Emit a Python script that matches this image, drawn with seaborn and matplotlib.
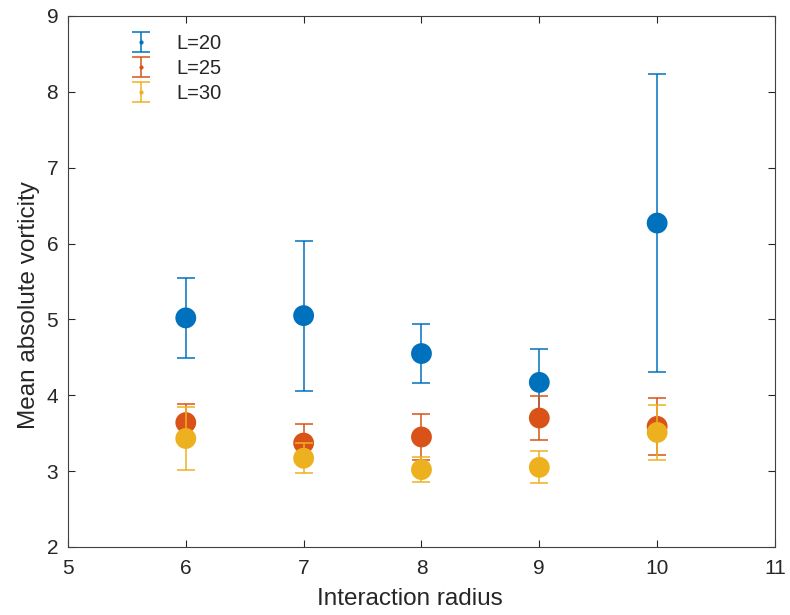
import numpy as np
import pandas as pd
import matplotlib
matplotlib.use("Agg")
import matplotlib.pyplot as plt
import seaborn as sns

# Interaction radius values
radius = [6, 7, 8, 9, 10]

# Mean absolute vorticity and error half-widths for each system size
L20_mean = [5.02, 5.05, 4.55, 4.17, 6.27]
L20_err = [0.53, 0.99, 0.39, 0.44, 1.96]
L25_mean = [3.64, 3.37, 3.45, 3.70, 3.59]
L25_err = [0.24, 0.25, 0.30, 0.29, 0.38]
L30_mean = [3.43, 3.17, 3.02, 3.05, 3.51]
L30_err = [0.42, 0.20, 0.16, 0.21, 0.36]

series_labels = ["L=20", "L=25", "L=30"]
colors = ["#0072BD", "#D95319", "#EDB120"]

df = pd.DataFrame({
    "radius": radius * 3,
    "mean": L20_mean + L25_mean + L30_mean,
    "err": L20_err + L25_err + L30_err,
    "size": np.repeat(series_labels, len(radius)),
})

sns.set_theme(style="ticks")
plt.rcParams["font.family"] = ["Liberation Sans", "DejaVu Sans"]

fig = plt.figure(figsize=(7.9, 6.15), dpi=100)
ax = fig.add_axes([0.086, 0.1106, 0.895, 0.8634])

for i, (lab, col) in enumerate(zip(series_labels, colors)):
    sub = df[df["size"] == lab]
    ax.errorbar(sub["radius"], sub["mean"], yerr=sub["err"], fmt=".",
                color=col, ms=4, elinewidth=1.1, capsize=6.5, capthick=1.1,
                label=lab, zorder=2 + 2 * i)
    sns.scatterplot(data=sub, x="radius", y="mean", ax=ax, color=col,
                    s=225, edgecolor="none", legend=False, zorder=3 + 2 * i)

ax.set_xlim(5, 11)
ax.set_ylim(2, 9)
ax.set_xticks(range(5, 12))
ax.set_yticks(range(2, 10))
ax.set_xlabel("Interaction radius", fontsize=17.5, color="#262626")
ax.set_ylabel("Mean absolute vorticity", fontsize=17.5, color="#262626")
ax.xaxis.set_label_coords(0.484, -0.078)
ax.yaxis.set_label_coords(-0.040, 0.456)

for sp in ax.spines.values():
    sp.set_visible(True)
    sp.set_linewidth(0.8)
    sp.set_color("#404040")
ax.tick_params(axis="both", direction="in", length=5, width=0.8,
               labelsize=15, colors="#262626", top=True, right=True)
ax.tick_params(axis="x", pad=9)
ax.tick_params(axis="y", pad=7)

leg = ax.legend(loc="upper left", bbox_to_anchor=(0.062, 1.0), frameon=False,
                fontsize=14.5, handlelength=1.1, handletextpad=1.2,
                labelspacing=0.3)

fig.savefig("out.png", dpi=100, facecolor="white")
